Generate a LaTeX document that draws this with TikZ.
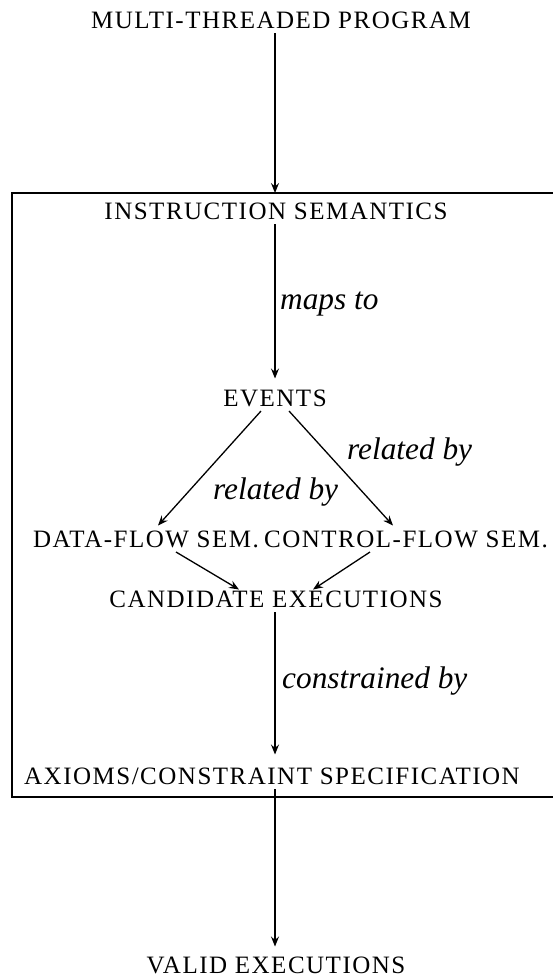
\documentclass[tikz,border=0pt]{standalone}
\usepackage{fontspec}
\setmainfont{Liberation Serif}
\newfontfamily\capsfont[LetterSpace=6]{Liberation Serif}
\usetikzlibrary{arrows.meta}

\tikzset{
  caps/.style={font=\capsfont\fontsize{25}{30}\selectfont, anchor=base,
    inner sep=0pt, outer xsep=0pt, outer ysep=5pt, text height=16.5pt, text depth=0pt},
  lbl/.style={font=\itshape\fontsize{31.3}{36}\selectfont, anchor=base west, inner sep=0pt},
  arr/.style={line width=1.3pt, -{Stealth[length=10pt,width=8pt,inset=3.5pt]}},
  frame/.style={line width=1.6pt}
}

\begin{document}
\begin{tikzpicture}[x=1pt,y=-1pt]
  \useasboundingbox (0,0) rectangle (552,980);

  % enclosing frame of the semantic model (its right side runs off the page)
  \coordinate (boxnw) at (12,193);
  \coordinate (boxse) at (562,797);
  \coordinate (boxtop) at (275,193);
  \draw[frame] (boxnw) rectangle (boxse);

  % stages
  \node[caps] (prog)   at (281,28)  {MULTI-THREADED PROGRAM};
  \node[caps] (instr)  at (276,219) {INSTRUCTION SEMANTICS};
  \node[caps] (events) at (275,406) {EVENTS};
  \node[caps] (dfs)    at (146,547) {DATA-FLOW SEM.};
  \node[caps] (cfs)    at (406,547) {CONTROL-FLOW SEM.};
  \node[caps] (cand)   at (276,607) {CANDIDATE EXECUTIONS};
  \node[caps] (axioms) at (272,784) {AXIOMS/CONSTRAINT SPECIFICATION};
  \node[caps] (valid)  at (276,973) {VALID EXECUTIONS};

  % edge labels
  \node[lbl] (lmaps) at (280,309) {maps to};
  \node[lbl] (lrelr) at (347,459) {related by};
  \node[lbl] (lrell) at (213,499) {related by};
  \node[lbl] (lcons) at (282,688) {constrained by};

  % connectors
  \draw[arr] (prog.south -| boxtop) -- (boxtop);
  \draw[arr, shorten >=6pt] (instr.south -| boxtop) -- (boxtop |- events.north);
  \draw[arr] ([xshift=-14pt]events.south) -- ([xshift=12pt]dfs.north);
  \draw[arr] ([xshift=14pt]events.south) -- ([xshift=-13pt]cfs.north);
  \draw[arr] ([xshift=30pt]dfs.south) -- ([xshift=-37pt,yshift=-4pt]cand.north);
  \draw[arr] ([xshift=-36pt]cfs.south) -- ([xshift=37pt,yshift=-4pt]cand.north);
  \draw[arr, shorten >=8pt] (cand.south -| boxtop) -- (boxtop |- axioms.north);
  \draw[arr, shorten >=5pt] (axioms.south -| boxtop) -- (boxtop |- valid.north);
\end{tikzpicture}
\end{document}
